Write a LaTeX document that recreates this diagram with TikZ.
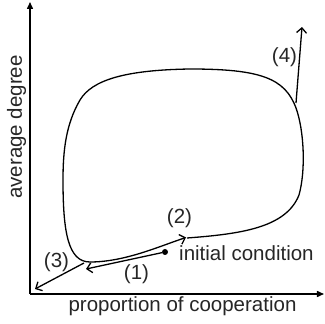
\documentclass[tikz,border=0pt]{standalone}
\usepackage{fontspec}
\setmainfont{Liberation Sans}
\usetikzlibrary{arrows.meta}
\definecolor{txt}{rgb}{0.15,0.15,0.15}
\begin{document}
\begin{tikzpicture}[x=1pt,y=-1pt,
  lbl/.style={inner sep=0pt,text=txt,font=\fontsize{20.5}{24}\selectfont},
  axis/.style={line width=1.5pt,-{Triangle[length=7pt,width=6pt]}},
  traj/.style={line width=1.3pt},
  barb/.style={line width=1.3pt,-{Straight Barb[length=5pt,width=10pt,line width=1.3pt]}}]
\useasboundingbox (0,0) rectangle (325,324);
% axes
\coordinate (o) at (30,294);
\coordinate (ytop) at (30,2);
\coordinate (xend) at (324,294);
\draw[axis] (o) -- (ytop);
\draw[axis] (o) -- (xend);
\node[lbl,rotate=90] (ylab) at (16.5,127) {average degree};
\node[lbl] (xlab) at (182.5,306.5) {proportion of cooperation};
% closed trajectory
\coordinate (p2) at (187,238);
\coordinate (pb) at (90,262);
\draw[traj] (p2) .. controls (240,234) and (286,228) .. (299,195)
  .. controls (306,170) and (304,130) .. (296,108)
  .. controls (285,78) and (260,69) .. (190,69)
  .. controls (125,70) and (92,80) .. (80,100)
  .. controls (66,124) and (63,150) .. (63,180)
  .. controls (63,232) and (68,262) .. (pb);
\draw[barb] (pb) .. controls (125,262) and (160,246) .. (186,237.5);
% initial condition
\node[circle,fill=black,inner sep=0pt,minimum size=6pt] (ic) at (165,252) {};
\node[lbl,anchor=west] (iclab) at (179,253.5) {initial condition};
\coordinate (a1) at (86,269);
\draw[barb] (ic) -- (a1);
\coordinate (s3) at (84,263);
\coordinate (a3) at (35,289);
\draw[barb] (s3) -- (a3);
\coordinate (s4) at (296,103);
\coordinate (a4) at (302,27);
\draw[barb] (s4) -- (a4);
% labels
\node[lbl] (l1) at (136.5,274) {(1)};
\node[lbl] (l2) at (179.5,218) {(2)};
\node[lbl] (l3) at (56.5,262) {(3)};
\node[lbl] (l4) at (284.5,57) {(4)};
\end{tikzpicture}
\end{document}
